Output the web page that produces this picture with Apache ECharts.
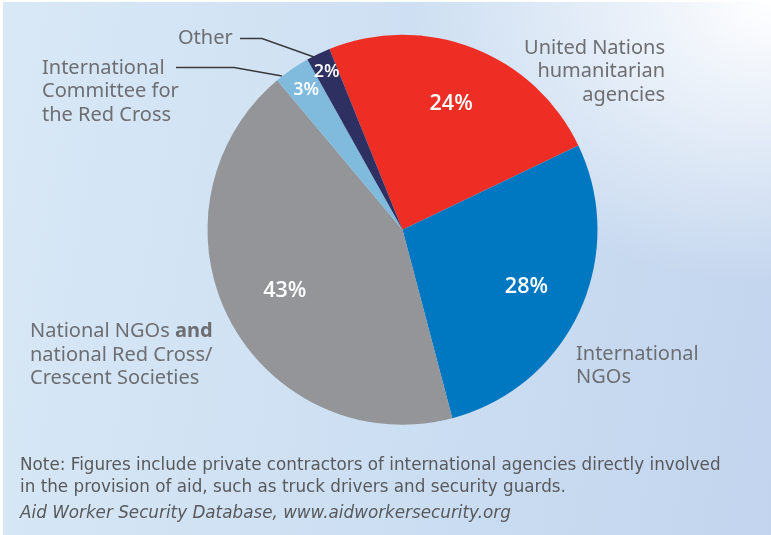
<!DOCTYPE html>
<html>
<head>
<meta charset="utf-8">
<script src="https://cdn.jsdelivr.net/npm/echarts@6/dist/echarts.min.js"></script>
<style>
  html, body { margin: 0; padding: 0; background: #ffffff; }
  #bg { position: absolute; left: 3px; top: 2px; width: 768px; height: 533px;
    background:
      radial-gradient(ellipse 360px 280px at 100% 0%, rgba(255,255,255,1) 0%, rgba(255,255,255,0) 100%),
      linear-gradient(100deg, #d8e8f6 0%, #cddff2 50%, #c3d5ee 100%);
  }
  #chart { position: absolute; left: 0; top: 0; width: 771px; height: 535px; }
</style>
</head>
<body>
<div id="bg"></div>
<div id="chart"></div>
<script>
// ---- data ----
const categories = [
  'United Nations humanitarian agencies',
  'International NGOs',
  'National NGOs and national Red Cross/Crescent Societies',
  'International Committee for the Red Cross',
  'Other'
];
const values = [24, 28, 43, 3, 2];
const colors = ['#ee2e24', '#0077c1', '#939598', '#80bbdd', '#2e3062'];
const outerLabels = [
  '{n|United Nations}\n{n|humanitarian}\n{n|agencies}',
  '{n|International}\n{n|NGOs}',
  '{n|National NGOs }{b|and}\n{n|national Red Cross/}\n{n|Crescent Societies}',
  '{n|International}\n{n|Committee for}\n{n|the Red Cross}',
  '{n|Other}'
];
const noteLines = [
  'Note: Figures include private contractors of international agencies directly involved',
  'in the provision of aid, such as truck drivers and security guards.'
];
const sourceText = 'Aid Worker Security Database, www.aidworkersecurity.org';

// ---- annotation placement ----
const labelPlacement = [
  { x: 665, y: 71.5, align: 'right' },
  { x: 576, y: 366, align: 'left' },
  { x: 30, y: 355, align: 'left' },
  { x: 42, y: 91.5, align: 'left', line: [[282, 76], [234, 67.5], [176, 67.5]] },
  { x: 178, y: 38, align: 'left', line: [[314, 57], [262, 38.5], [240, 38.5]] }
];
// radial position of each percentage label, as a fraction of the radius
const pctRadius = [0.69, 0.7, 0.68, 0.87, 0.9];

const FONT = '"Noto Sans", sans-serif';
const PFONT = '"Open Sans", "Noto Sans", sans-serif';
const NFONT = '"DejaVu Sans", sans-serif';
const CENTER = [402.5, 229.7];
const R = 195;
const START = 112;

const total = values.reduce((a, b) => a + b, 0);
function pctPos(i) {
  let before = 0;
  for (let k = 0; k < i; k++) before += values[k];
  const midDeg = START - (before + values[i] / 2) / total * 360;
  const a = midDeg * Math.PI / 180;
  const r = R * pctRadius[i];
  return [CENTER[0] + r * Math.cos(a), CENTER[1] - r * Math.sin(a)];
}

const chart = echarts.init(document.getElementById('chart'), null, { renderer: 'canvas' });

const mainData = categories.map((c, i) => ({
  name: c,
  value: values[i],
  itemStyle: { color: colors[i] },
  labelLine: { show: !!labelPlacement[i].line }
}));

chart.setOption({
  animation: false,
  backgroundColor: 'transparent',
  series: [
    {
      type: 'pie',
      center: CENTER,
      radius: [0, R],
      startAngle: START,
      clockwise: true,
      avoidLabelOverlap: false,
      emphasis: { disabled: true },
      itemStyle: { borderWidth: 0 },
      label: {
        show: true,
        position: 'outside',
        formatter: p => outerLabels[p.dataIndex],
        rich: {
          n: { fontFamily: FONT, fontSize: 20, color: '#6d6e71', lineHeight: 23.5 },
          b: { fontFamily: FONT, fontSize: 20, color: '#6d6e71', lineHeight: 23.5, fontWeight: 'bold' }
        }
      },
      labelLine: { lineStyle: { color: '#3a3a3c', width: 1.6 } },
      labelLayout: p => {
        const lp = labelPlacement[p.dataIndex];
        const o = { x: lp.x, y: lp.y, align: lp.align, verticalAlign: 'middle', hideOverlap: false };
        if (lp.line) o.labelLinePoints = lp.line;
        return o;
      },
      data: mainData
    },
    {
      // transparent overlay pie carrying the percentage labels
      type: 'pie',
      silent: true,
      center: CENTER,
      radius: [0, R],
      startAngle: START,
      clockwise: true,
      avoidLabelOverlap: false,
      minShowLabelAngle: 0,
      itemStyle: { color: 'transparent' },
      emphasis: { disabled: true },
      labelLine: { show: false },
      label: {
        show: true,
        position: 'outside',
        color: '#ffffff',
        fontFamily: PFONT,
        fontWeight: 600,
        formatter: p => p.value + '%'
      },
      labelLayout: p => {
        const pos = pctPos(p.dataIndex);
        return { x: pos[0], y: pos[1], align: 'center', verticalAlign: 'middle', hideOverlap: false };
      },
      data: categories.map((c, i) => ({
        name: c, value: values[i],
        label: { fontSize: values[i] >= 10 ? 21.5 : 18 }
      }))
    }
  ],
  graphic: [
    { type: 'text', left: 20, top: 457, style: { text: noteLines[0], font: '16.8px ' + NFONT, fill: '#58595b' } },
    { type: 'text', left: 20, top: 479, style: { text: noteLines[1], font: '16.8px ' + NFONT, fill: '#58595b' } },
    { type: 'text', left: 20, top: 505, style: { text: sourceText, font: 'italic 16.8px ' + NFONT, fill: '#58595b' } }
  ]
});
</script>
</body>
</html>
